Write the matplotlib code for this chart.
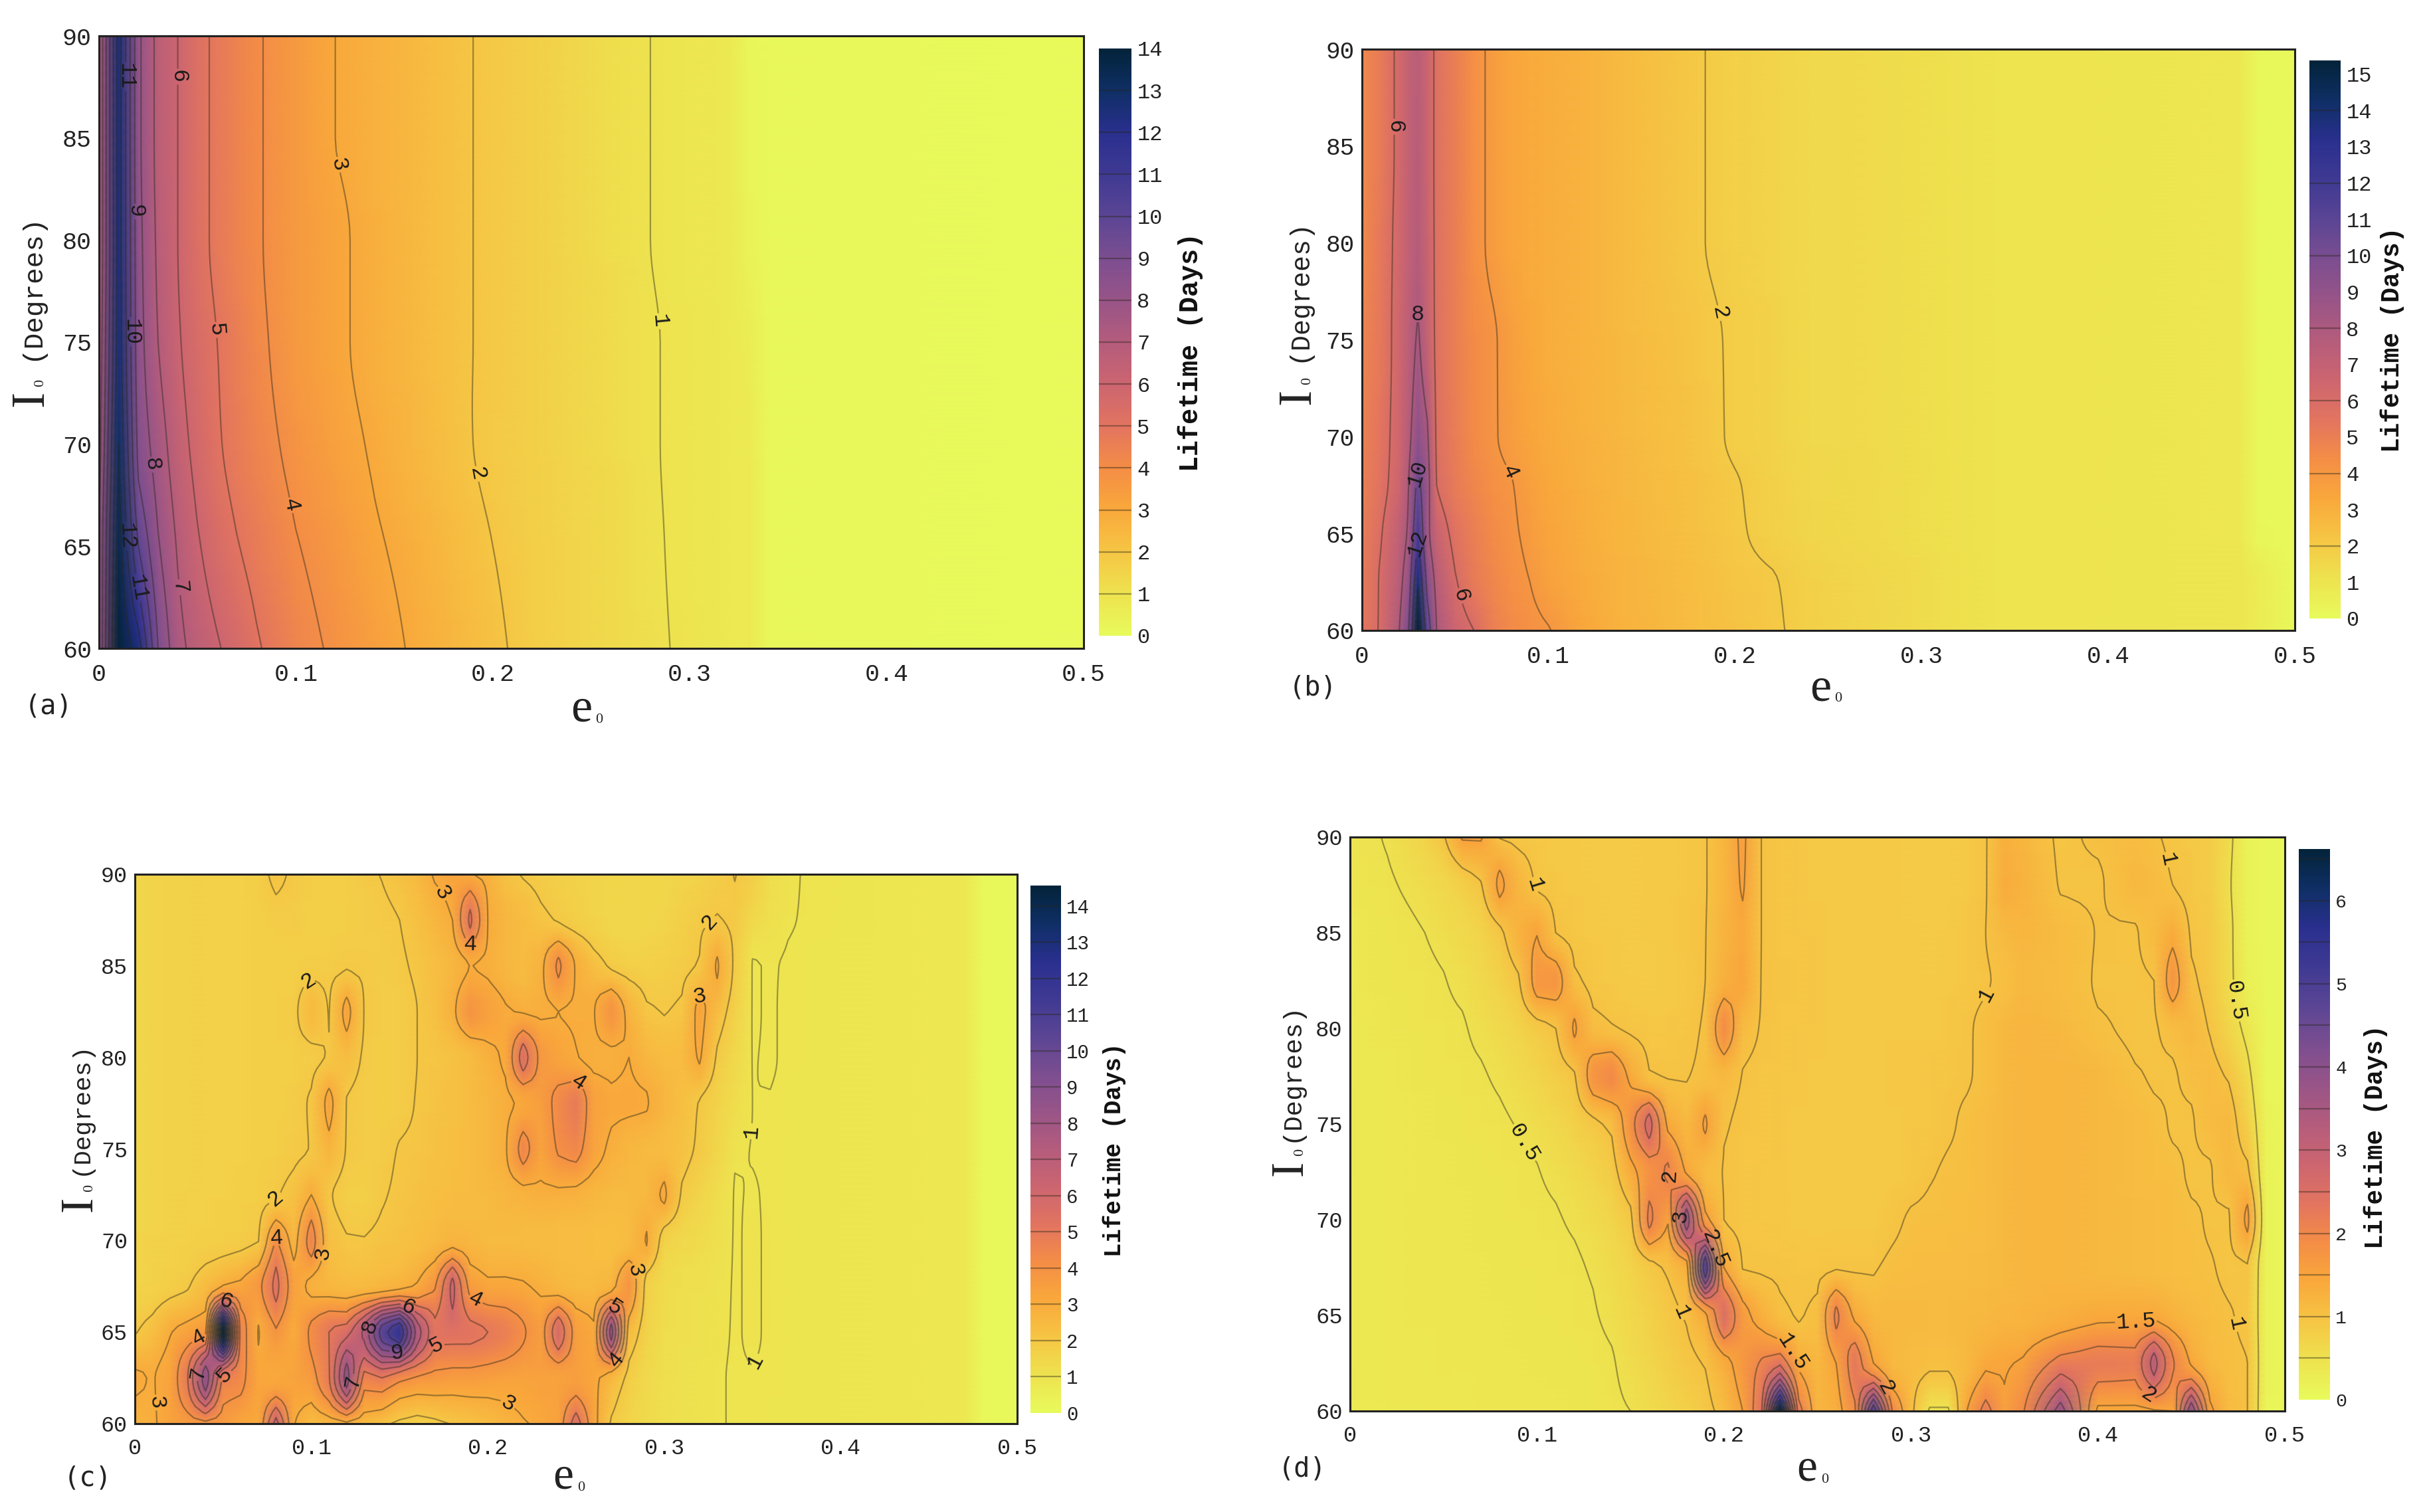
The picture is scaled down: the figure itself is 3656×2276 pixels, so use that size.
# lifetime maps, panels (a) to (d)
import matplotlib
matplotlib.use('Agg')
import matplotlib.pyplot as plt
from matplotlib.colors import LinearSegmentedColormap
import numpy as np

plt.rcParams['font.family'] = ['Liberation Mono', 'DejaVu Sans Mono']

W, H = 3656, 2276
LINE = (0.15, 0.15, 0.1, 0.42)

xticks = [0, 0.1, 0.2, 0.3, 0.4, 0.5]
xticklabels = ['0', '0.1', '0.2', '0.3', '0.4', '0.5']
yticks = [60, 65, 70, 75, 80, 85, 90]

colors = ['#e8fa5b', '#eee24f', '#f6c544', '#f9a83b', '#f48d46', '#e27460', '#cc6570', '#b45c7c',
          '#985487', '#7c4e90', '#5b4594', '#3f3a93', '#2a2f8e', '#0f2f66', '#03233a']
cmap = LinearSegmentedColormap.from_list('life', colors)

#%% panel a
e_a = [0, .01, .02, .03, .04, .05, .06, .07, .08, .10, .12, .14, .16, .18, .20, .22, .26, .29, .32, .33, .34, .50]
inc_a = [90, 85, 80, 75, 70, 65, 60]
life_a = [
    [7, 12.5, 8.2, 6.7, 6.0, 5.3, 4.8, 4.4, 4.1, 3.5, 3.0, 2.7, 2.45, 2.1, 1.9, 1.65, 1.2, .9, .75, .2, .12, .05],
    [7, 12.5, 8.2, 6.7, 6.0, 5.3, 4.8, 4.4, 4.1, 3.5, 3.0, 2.7, 2.45, 2.1, 1.9, 1.65, 1.2, .9, .75, .25, .12, .05],
    [7, 12.5, 8.3, 6.8, 6.0, 5.3, 4.8, 4.4, 4.1, 3.5, 3.15, 2.75, 2.45, 2.1, 1.9, 1.65, 1.2, .9, .75, .3, .12, .05],
    [7.2, 12.6, 8.4, 7.0, 6.1, 5.5, 5.0, 4.6, 4.2, 3.55, 3.15, 2.75, 2.45, 2.1, 1.9, 1.65, 1.25, .95, .75, .6, .12, .05],
    [7.5, 13, 8.7, 7.5, 6.4, 5.7, 5.1, 4.7, 4.35, 3.75, 3.3, 2.9, 2.5, 2.15, 1.85, 1.65, 1.25, .95, .75, .7, .12, .05],
    [8, 13.5, 10, 8.1, 6.9, 6.1, 5.5, 5.05, 4.7, 4.05, 3.6, 3.1, 2.75, 2.35, 2.0, 1.7, 1.3, .97, .75, .75, .12, .05],
    [8, 14, 12.5, 9, 7.3, 6.6, 6.1, 5.6, 5.1, 4.35, 3.85, 3.35, 2.9, 2.5, 2.15, 1.75, 1.3, 1.0, .75, .75, .12, .05],
]

#%% panel b
e_b = [0, .01, .02, .025, .03, .035, .04, .05, .06, .07, .08, .09, .10, .12, .14, .18, .20, .22, .24, .30, .34, .40, .47, .48, .50]
inc_b = [90, 85, 80, 75, 70, 67.5, 65, 62.5, 60]
life_b = [
    [4.6, 5.2, 6.3, 7.0, 7.4, 6.7, 5.7, 5.0, 4.3, 3.8, 3.4, 3.2, 3.1, 2.9, 2.6, 2.05, 1.8, 1.65, 1.5, 1.3, 1.05, 1.0, .9, .15, .08],
    [4.6, 5.2, 6.3, 7.0, 7.5, 6.7, 5.7, 5.0, 4.3, 3.8, 3.4, 3.2, 3.1, 2.9, 2.6, 2.05, 1.8, 1.65, 1.5, 1.3, 1.05, 1.0, .9, .15, .08],
    [4.6, 5.3, 6.4, 7.1, 7.6, 6.8, 5.7, 5.0, 4.3, 3.8, 3.4, 3.2, 3.1, 2.9, 2.6, 2.05, 1.8, 1.65, 1.5, 1.3, 1.05, 1.0, .9, .15, .08],
    [4.8, 5.3, 6.5, 7.3, 8.2, 7.0, 5.7, 5.0, 4.45, 4.1, 3.7, 3.3, 3.1, 2.9, 2.65, 2.2, 1.9, 1.7, 1.5, 1.3, 1.05, 1.0, .9, .15, .08],
    [4.9, 5.5, 6.5, 7.6, 9.2, 8.2, 5.8, 5.1, 4.5, 4.1, 3.75, 3.45, 3.2, 2.95, 2.7, 2.25, 1.9, 1.7, 1.5, 1.3, 1.05, 1.0, .9, .15, .08],
    [5, 5.6, 6.6, 8, 10.5, 8.6, 6.0, 5.2, 4.7, 4.3, 4.05, 3.65, 3.3, 3, 2.75, 2.3, 2.05, 1.75, 1.55, 1.3, 1.05, 1.0, .9, .15, .08],
    [5.1, 5.9, 7.2, 8.2, 11.8, 8.4, 6.8, 5.6, 5, 4.5, 4.15, 3.8, 3.45, 3.05, 2.8, 2.35, 2.1, 1.8, 1.6, 1.3, 1.05, 1.0, .9, .2, .08],
    [5.2, 6.1, 7.5, 9, 13.8, 9.5, 7.5, 6.1, 5.2, 4.7, 4.3, 4.0, 3.6, 3.15, 2.85, 2.45, 2.2, 2.05, 1.75, 1.35, 1.05, 1.0, .92, .7, .08],
    [5.4, 6.1, 8, 10, 15.4, 11, 8, 6.6, 6, 5, 4.5, 4.25, 4.05, 3.3, 2.9, 2.5, 2.3, 2.1, 1.8, 1.35, 1.05, 1.0, .92, .7, .08],
]

#%% panel c
e_c = [.00, .01, .02, .03, .04, .05, .06, .07, .08, .09, .10, .11, .12, .13, .14, .15, .16, .17, .18, .19,
       .20, .21, .22, .23, .24, .25, .26, .27, .28, .29, .30, .31, .32, .33, .34, .35, .36,
       .37, .38, .42, .47, .48, .50]
inc_c = [90, 87.5, 85, 82.5, 80, 77.5, 75, 72.5, 70, 67.5, 65, 62.5, 60]
life_c = [
    [1.5, 1.55, 1.6, 1.65, 1.65, 1.7, 1.7, 1.8, 2.15, 1.9, 1.8, 1.8, 1.8, 1.9, 2.02, 2.2, 2.5, 3.1, 3.3, 3.05,
     2.8, 2.2, 1.95, 1.8, 1.7, 1.6, 1.55, 1.5, 1.45, 1.5, 1.5, 1.55, 1.6, 1.8, 2.02, 1.8, 1.25, 1.05, .98, .9, .85, .15, .1],
    [1.5, 1.55, 1.6, 1.6, 1.65, 1.65, 1.7, 1.75, 1.85, 1.85, 1.75, 1.75, 1.8, 1.85, 1.9, 2.0, 2.25, 2.6, 3.0, 5.2,
     3.0, 2.6, 2.4, 2.15, 1.95, 1.75, 1.6, 1.5, 1.45, 1.5, 1.55, 1.7, 1.9, 2.05, 1.9, 1.4, 1.15, 1.02, .98, .9, .85, .15, .1],
    [1.5, 1.55, 1.6, 1.6, 1.65, 1.65, 1.7, 1.75, 1.75, 1.75, 1.85, 1.85, 1.95, 1.9, 1.85, 1.92, 2.08, 2.35, 2.6, 3.02,
     2.9, 2.6, 2.4, 2.75, 4.2, 2.9, 2.3, 1.9, 1.75, 1.7, 1.75, 1.85, 2.05, 3.1, 1.85, .98, 1.02, .98, .95, .9, .85, .15, .1],
    [1.5, 1.55, 1.6, 1.6, 1.65, 1.65, 1.7, 1.75, 1.8, 1.85, 2.5, 1.97, 3.3, 1.97, 1.85, 1.85, 2.0, 2.25, 2.8, 3.9,
     3.4, 3.05, 2.95, 2.9, 3.0, 2.95, 2.95, 3.9, 2.7, 2.1, 1.97, 2.1, 3.3, 2.4, 1.65, .98, 1.02, .97, .95, .9, .85, .15, .1],
    [1.5, 1.55, 1.6, 1.6, 1.65, 1.65, 1.7, 1.72, 1.75, 1.8, 1.85, 2.05, 2.4, 1.9, 1.8, 1.85, 2.0, 2.1, 2.2, 2.4,
     2.8, 3.1, 5.5, 3.7, 3.3, 3.03, 2.85, 2.85, 3.0, 2.6, 2.4, 2.4, 3.1, 1.9, 1.4, .99, 1.02, .97, .95, .9, .85, .15, .1],
    [1.5, 1.55, 1.6, 1.6, 1.65, 1.65, 1.7, 1.72, 1.75, 1.85, 2.05, 3.3, 1.98, 1.85, 1.8, 1.85, 2.03, 2.15, 2.25, 2.4,
     2.6, 2.85, 3.15, 3.5, 4.3, 4.9, 3.4, 3.1, 3.1, 3.05, 2.6, 2.3, 1.97, 1.6, 1.25, 1.0, .99, .96, .95, .9, .85, .15, .1],
    [1.5, 1.55, 1.6, 1.6, 1.65, 1.65, 1.7, 1.75, 1.8, 1.9, 2.02, 2.7, 1.95, 1.85, 1.85, 2.03, 2.1, 2.2, 2.3, 2.4,
     2.6, 2.9, 4.4, 3.3, 4.1, 4.4, 3.3, 2.85, 2.6, 2.5, 2.4, 2.2, 1.9, 1.5, 1.05, .99, .97, .96, .95, .9, .85, .15, .1],
    [1.5, 1.55, 1.6, 1.65, 1.65, 1.7, 1.75, 1.8, 1.95, 2.2, 3.0, 2.05, 1.8, 1.75, 1.95, 2.1, 2.2, 2.3, 2.4, 2.45,
     2.5, 2.6, 2.75, 2.85, 2.85, 2.8, 2.6, 2.5, 2.5, 2.55, 3.15, 1.9, 1.55, 1.25, .98, 1.02, .97, .96, .95, .9, .85, .15, .1],
    [1.55, 1.6, 1.65, 1.7, 1.75, 1.8, 1.85, 1.98, 4.1, 2.6, 4.5, 2.3, 2.05, 2.03, 2.15, 2.2, 2.35, 2.5, 2.7, 2.6,
     2.5, 2.5, 2.45, 2.45, 2.4, 2.4, 2.35, 2.3, 2.4, 3.05, 1.6, 1.4, 1.3, 1.15, .98, 1.03, .97, .96, .95, .9, .85, .15, .1],
    [1.6, 1.65, 1.8, 1.95, 2.4, 3.05, 3.2, 3.7, 5.3, 3.4, 2.8, 2.6, 2.5, 2.5, 2.6, 2.75, 3.1, 3.9, 6.3, 3.6,
     3.2, 3.2, 3.1, 2.85, 2.6, 2.5, 2.5, 2.7, 3.9, 1.7, 1.3, 1.2, 1.15, 1.08, .98, 1.03, .97, .96, .95, .9, .85, .15, .1],
    [1.95, 2.3, 2.95, 3.4, 3.8, 14.5, 4.5, 2.95, 3.9, 3.05, 4.2, 5.0, 5.6, 7.2, 10.5, 12, 7.5, 5.2, 5.4, 5.2,
     5.0, 4.7, 4.1, 3.5, 5.8, 3.5, 3.1, 8.5, 2.5, 1.6, 1.25, 1.15, 1.1, 1.05, .98, 1.03, .97, .96, .95, .9, .85, .15, .1],
    [3.1, 2.95, 3.3, 5, 8.7, 4.8, 4.3, 3.2, 3.1, 3.3, 3.6, 4.9, 8.5, 4.6, 5, 4.3, 3.9, 3.7, 3.6, 3.6,
     3.5, 3.4, 3.35, 3.4, 3.4, 3.5, 3.2, 2.6, 1.8, 1.4, 1.2, 1.12, 1.07, 1.02, .98, .99, .97, .96, .95, .9, .85, .15, .1],
    [2.7, 2.9, 3.3, 3.6, 3.7, 3.6, 3.2, 3.1, 6.5, 3.05, 2.4, 2.6, 2.8, 2.5, 2.2, 1.8, 1.6, 1.8, 2.05, 2.2,
     2.4, 2.7, 2.95, 3.1, 3.4, 5.6, 3.3, 1.9, 1.5, 1.3, 1.15, 1.1, 1.05, 1.02, .98, .97, .96, .96, .95, .9, .85, .15, .1],
]

#%% panel d
e_d = [.00, .02, .04, .05, .06, .07, .08, .09, .10, .11, .12, .13, .14, .15, .16, .17, .18, .19, .20, .21, .22, .23,
       .24, .25, .26, .27, .28, .29, .30, .31, .32, .33, .34, .35, .36, .38, .40, .42, .43, .44, .45, .46, .47, .48, .49, .50]
inc_d = [90, 87.5, 85, 82.5, 80, 77.5, 75, 72.5, 70, 67.5, 65, 62.5, 60]
life_d = [
    [.40, .52, .72, .95, 1.55, 1.55, .98, .92, .9, .88, .88, .87, .87, .87, .88, .9, .93, .98, 1.2, 1.6, 1.0, .95,
     .92, .9, .9, .88, .88, .88, .87, .87, .87, .9, .98, 1.3, 1.2, .95, 1.04, 1.1, 1.03, .95, .9, .85, .6, .15, .1, .08],
    [.40, .47, .58, .65, .8, .97, 1.6, 1.2, .97, .92, .9, .88, .87, .87, .88, .9, .93, .98, 1.2, 1.55, 1.0, .95,
     .92, .9, .9, .88, .88, .88, .87, .87, .87, .9, .98, 1.35, 1.25, .98, .97, 1.15, 1.1, 1.0, .92, .85, .55, .15, .1, .08],
    [.38, .43, .5, .56, .62, .72, .93, 1.25, 1.48, 1.0, .93, .9, .88, .87, .88, .9, .94, .99, 1.25, 1.4, 1.0, .95,
     .93, .92, .9, .9, .88, .88, .88, .87, .88, .92, 1.0, 1.15, 1.2, 1.1, .99, .98, 1.1, 1.35, .96, .88, .6, .15, .1, .08],
    [.38, .42, .46, .49, .55, .63, .75, .95, 1.7, 1.75, 1.05, .93, .9, .88, .87, .88, .92, 1.0, 1.3, 1.45, .99, .96,
     .94, .92, .9, .9, .88, .88, .88, .88, .9, .93, .98, 1.05, 1.15, 1.1, .98, .97, 1.0, 1.75, 1.05, .9, .6, .2, .1, .08],
    [.36, .4, .44, .46, .48, .55, .62, .72, .88, 1.0, 1.55, 1.1, 1.02, .97, .93, .92, .95, 1.02, 1.9, 1.12, .98, .95,
     .93, .92, .9, .9, .9, .9, .9, .9, .92, .97, 1.06, 1.15, 1.2, 1.15, 1.03, .96, .97, 1.1, 1.15, .98, .7, .4, .1, .08],
    [.36, .38, .42, .44, .46, .48, .53, .6, .7, .82, .96, 1.75, 1.95, 1.4, 1.02, .99, .99, 1.05, 1.15, .99, .95, .93,
     .92, .9, .9, .9, .9, .92, .92, .93, .95, .98, 1.05, 1.15, 1.2, 1.2, 1.15, 1.02, .98, .98, 1.05, 1.1, .97, .6, .1, .08],
    [.36, .38, .4, .42, .43, .45, .47, .51, .57, .65, .77, .92, 1.08, 1.8, 2.7, 1.4, 1.15, 1.55, 1.02, .96, .94, .92,
     .9, .9, .9, .9, .9, .9, .92, .93, .97, 1.04, 1.1, 1.15, 1.2, 1.2, 1.15, 1.1, 1.05, .98, .98, 1.1, 1.15, .8, .15, .08],
    [.36, .38, .39, .4, .42, .43, .44, .46, .49, .55, .62, .72, .85, 1.35, 1.8, 2.05, 1.45, 1.1, .99, .95, .93, .92,
     .9, .9, .9, .9, .9, .9, .92, .98, 1.03, 1.05, 1.1, 1.15, 1.2, 1.2, 1.15, 1.1, 1.08, 1.05, .97, .98, 1.15, 1.08, .15, .08],
    [.36, .38, .39, .39, .4, .42, .43, .44, .46, .48, .53, .6, .7, .9, 2.1, 1.55, 3.8, 1.65, 1.0, .95, .93, .92,
     .9, .9, .9, .9, .9, .95, 1.03, 1.05, 1.06, 1.08, 1.1, 1.15, 1.2, 1.2, 1.15, 1.12, 1.1, 1.08, 1.03, .98, .97, 1.6, .15, .08],
    [.36, .38, .39, .39, .4, .41, .42, .43, .44, .45, .47, .52, .6, .72, .9, 1.05, 1.3, 4.9, 1.5, .99, .98, .97,
     .95, .95, .98, .98, .98, 1.05, 1.08, 1.1, 1.1, 1.1, 1.12, 1.15, 1.2, 1.2, 1.15, 1.12, 1.1, 1.08, 1.05, 1.02, .95, .98, .15, .08],
    [.36, .38, .39, .39, .4, .4, .41, .42, .43, .44, .45, .48, .55, .65, .76, .9, 1.03, 1.4, 2.5, 1.65, 1.3, 1.05,
     .98, 1.05, 2.1, 1.4, 1.15, 1.15, 1.15, 1.13, 1.13, 1.15, 1.17, 1.2, 1.22, 1.3, 1.4, 1.42, 1.42, 1.25, 1.15, 1.08, 1.02, .95, .15, .08],
    [.36, .37, .38, .39, .39, .4, .4, .41, .42, .42, .43, .44, .48, .58, .68, .8, .92, 1.02, 1.35, 1.7, 2.05, 2.4,
     1.4, 1.15, 1.5, 2.3, 1.5, 1.15, 1.1, 1.05, 1.05, 1.15, 1.42, 1.45, 1.55, 2.2, 2.2, 2.15, 3.2, 2.05, 1.45, 1.15, 1.05, 1.0, .15, .08],
    [.35, .36, .37, .38, .38, .39, .39, .4, .4, .41, .42, .43, .46, .5, .58, .67, .77, .9, 1.1, 1.5, 2.4, 6.62,
     2.2, 1.2, 1.3, 1.9, 5.0, 2.0, 1.1, .45, .45, 1.5, 2.2, 1.55, 1.95, 3.8, 1.4, 1.4, 1.45, 1.5, 4.0, 1.6, 1.1, 1.0, .12, .08],
]

levels_a = [1, 2, 3, 4, 5, 6, 7, 8, 9, 10, 11, 12, 13]
levels_b = [2, 4, 6, 8, 10, 12, 14]
levels_c = [1, 2, 3, 4, 5, 6, 7, 8, 9, 10, 11, 12, 13, 14]
levels_d = [.5, 1, 1.5, 2, 2.5, 3, 3.5, 4, 4.5, 5, 5.5, 6, 6.5]

cticks_a = list(range(15))
cticks_b = list(range(16))
cticks_c = list(range(15))
cticks_d = list(range(7))

# where the inline contour labels sit, per level
labels_a = {1: [(.2815, 76)], 2: [(.195, 68.6)], 3: [(.122, 83.7)], 4: [(.097, 67)], 5: [(.06, 75.6)],
            6: [(.04, 88)], 7: [(.0416, 63)], 8: [(.027, 69)], 9: [(.018, 81.4)], 10: [(.016, 75.5)],
            11: [(.014, 88), (.022, 63)], 12: [(.016, 65.5)]}
labels_b = {2: [(.1875, 76.3)], 4: [(.0815, 68.3)], 6: [(.019, 86), (.0536, 61.8)], 8: [(.03, 76.9)],
            10: [(.03, 68.1)], 12: [(.03, 64.5)]}
labels_c = {1: [(.344, 76), (.35, 63.5)], 2: [(.1, 84), (.082, 72), (.328, 87.2)],
            3: [(.175, 89), (.108, 69.3), (.021, 61.2), (.214, 61.5), (.28, 68.3), (.32, 83.5)],
            4: [(.191, 85.5), (.081, 70.3), (.195, 67.2), (.034, 65), (.251, 78.6), (.271, 63.6)],
            5: [(.171, 64.2), (.05, 62.8), (.271, 66.2)], 6: [(.155, 66.4), (.052, 66.7)],
            7: [(.123, 62.3), (.032, 62.8)], 8: [(.133, 65.3)], 9: [(.149, 64)]}
labels_d = {.5: [(.0927, 74), (.477, 81.5)],
            1: [(.096, 87.4), (.176, 65.1), (.342, 81.7), (.436, 88.8), (.4766, 64.6)],
            1.5: [(.2454, 63.5), (.4205, 64.7)], 2: [(.1758, 72.3), (.2846, 61.1), (.429, 61.2)],
            2.5: [(.1935, 68.4)], 3: [(.175, 70.2)]}


def box_to_fig(left, top, right, bottom):
    return [left / W, 1 - bottom / H, (right - left) / W, (bottom - top) / H]


def smooth_rows(inc, life, n=8):
    # the original surface is smooth in I0, so draw it that way (monotone Hermite between the read rows)
    y = np.array(inc, dtype=float)[::-1]
    z = np.array(life, dtype=float)[::-1]
    h = np.diff(y)
    d = np.diff(z, axis=0) / h[:, None]
    m = np.zeros_like(z)
    m[0], m[-1] = d[0], d[-1]
    with np.errstate(divide='ignore', invalid='ignore'):
        m[1:-1] = np.where(d[:-1] * d[1:] > 0, 2 * d[:-1] * d[1:] / (d[:-1] + d[1:]), 0)
    ys, zs = [], []
    for i in range(len(h)):
        for t in np.arange(n) / n:
            ys.append(y[i] + t * h[i])
            zs.append((2*t**3 - 3*t**2 + 1) * z[i] + (t**3 - 2*t**2 + t) * h[i] * m[i]
                      + (-2*t**3 + 3*t**2) * z[i + 1] + (t**3 - t**2) * h[i] * m[i + 1])
    ys.append(y[-1])
    zs.append(z[-1])
    return np.array(ys), np.array(zs)


def draw_panel(box, cbox, e, inc, life, vmax, levels, labels, cticks, tick_fs, cb_fs):
    ax = fig.add_axes(box_to_fig(*box))
    y, z = smooth_rows(inc, life)
    mesh = ax.pcolormesh(e, y, z, shading='gouraud', cmap=cmap, vmin=0, vmax=vmax, rasterized=True)
    for lev in levels:
        cs = ax.contour(e, y, z, levels=[lev], colors=[LINE], linewidths=0.8)
        if lev in labels:
            ax.clabel(cs, manual=labels[lev], inline=True, inline_spacing=2, fontsize=12, fmt='%g', colors='#1a1a1a')
    ax.set_xlim(0, 0.5)
    ax.set_ylim(60, 90)
    ax.set_xticks(xticks)
    ax.set_xticklabels(xticklabels)
    ax.set_yticks(yticks)
    ax.tick_params(length=0, labelsize=tick_fs, colors='#222222')
    ax.tick_params(axis='x', pad=8)
    ax.tick_params(axis='y', pad=4)
    for s in ax.spines.values():
        s.set_linewidth(1.1)
        s.set_color('#222222')
    cax = fig.add_axes(box_to_fig(*cbox))
    cb = fig.colorbar(mesh, cax=cax)
    cb.set_ticks(cticks)
    cb.ax.tick_params(length=0, labelsize=cb_fs, colors='#222222', pad=3)
    cb.outline.set_visible(False)
    for lev in levels:
        cax.axhline(lev, color=LINE, lw=0.8)


def texts(tag, tag_xy, e_xy, e_fs, i_xy, deg_xy, deg_fs, cb_xy, cb_fs):
    ink = '#222222'
    fig.text(tag_xy[0] / W, 1 - tag_xy[1] / H, tag, fontsize=14.5, family='DejaVu Sans Mono', ha='center', va='center', color=ink)
    fig.text(e_xy[0] / W, 1 - e_xy[1] / H, 'e', fontsize=e_fs, family='Liberation Serif', ha='center', va='center', color=ink)
    fig.text((e_xy[0] + 27) / W, 1 - (e_xy[1] + 15) / H, '0', fontsize=8, family='Liberation Serif', ha='center', va='center', color=ink)
    fig.text(i_xy[0] / W, 1 - i_xy[1] / H, 'I', fontsize=e_fs, family='Liberation Serif', rotation=90, ha='center', va='center', color=ink)
    fig.text((i_xy[0] + 14) / W, 1 - (i_xy[1] - 24) / H, '0', fontsize=8, family='Liberation Serif', rotation=90, ha='center', va='center', color=ink)
    fig.text(deg_xy[0] / W, 1 - deg_xy[1] / H, '(Degrees)', fontsize=deg_fs, rotation=90, ha='center', va='center', color=ink)
    fig.text(cb_xy[0] / W, 1 - cb_xy[1] / H, 'Lifetime (Days)', fontsize=cb_fs, fontweight='bold', rotation=90, ha='center', va='center', color='#111111')


fig = plt.figure(figsize=(W / 200, H / 200), dpi=200)

draw_panel((149, 54, 1631, 976), (1654, 73, 1703, 957), e_a, inc_a, life_a, 14, levels_a, labels_a, cticks_a, 13.2, 11.5)
draw_panel((2050, 74, 3454, 949), (3476, 91, 3523, 931), e_b, inc_b, life_b, 15.38, levels_b, labels_b, cticks_b, 13, 11.5)
draw_panel((203, 1316, 1531, 2143), (1551, 1333, 1597, 2127), e_c, inc_c, life_c, 14.56, levels_c, labels_c, cticks_c, 12, 10.5)
draw_panel((2032, 1260, 3439, 2124), (3460, 1278, 3507, 2107), e_d, inc_d, life_d, 6.62, levels_d, labels_d, cticks_d, 12.2, 10.2)

texts('(a)', (73, 1064), (875, 1068), 26, (47, 600), (47, 432), 14.8, (1792, 530), 14.4)
texts('(b)', (1976, 1036), (2740, 1037), 26, (1954, 597), (1954, 437), 14.4, (3601, 511), 13.6)
texts('(c)', (132, 2225), (848, 2224), 25, (121, 1812), (121, 1668), 13.4, (1677, 1731), 12.9)
texts('(d)', (1960, 2211), (2720, 2212), 25, (1943, 1758), (1943, 1614), 14, (3576, 1711), 13.5)

plt.savefig('out.png', dpi=200)
